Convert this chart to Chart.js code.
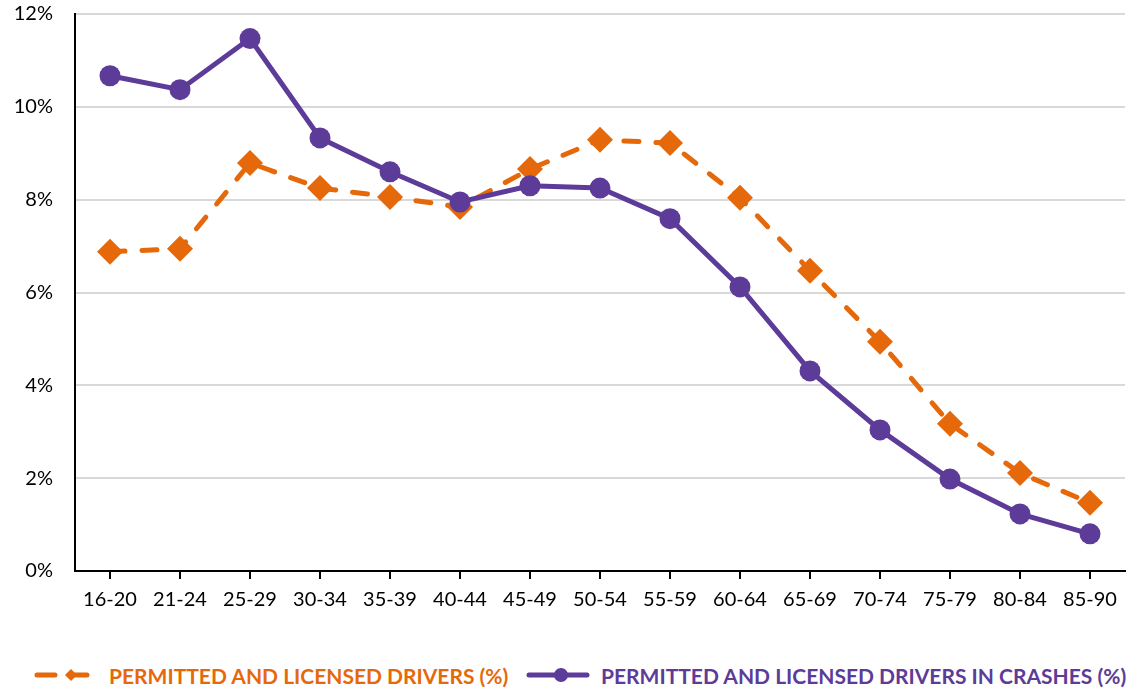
<!DOCTYPE html>
<html>
<head>
<meta charset="utf-8">
<script src="https://cdn.jsdelivr.net/npm/chart.js@4/dist/chart.umd.min.js"></script>
<style>
  html, body { margin: 0; padding: 0; background: #fff; }
  #wrap { width: 1129px; height: 689px; position: relative; }
  #chartBox { position: absolute; left: 0; top: 0; width: 1129px; height: 650px; }
  .leg { position: absolute; top: 662px; height: 26px; display: flex; align-items: center;
         font-family: Lato, 'Open Sans', sans-serif; font-weight: bold; font-size: 21px; white-space: nowrap; }
  .leg canvas { margin-right: 10px; }
</style>
</head>
<body>
<div id="wrap">
  <div id="chartBox"><canvas id="chartDrivers"></canvas></div>
  <div class="leg" id="leg0" style="left:33px"></div>
  <div class="leg" id="leg1" style="left:525px"></div>
</div>
<script>
const ageGroups = ["16-20", "21-24", "25-29", "30-34", "35-39", "40-44", "45-49", "50-54", "55-59", "60-64", "65-69", "70-74", "75-79", "80-84", "85-90"];
const licensedPct = [6.88, 6.94, 8.79, 8.25, 8.06, 7.84, 8.66, 9.29, 9.22, 8.04, 6.47, 4.94, 3.17, 2.11, 1.47];
const crashPct = [10.67, 10.37, 11.47, 9.33, 8.6, 7.95, 8.3, 8.25, 7.59, 6.12, 4.31, 3.04, 1.98, 1.23, 0.8];
const yTicks = [0, 2, 4, 6, 8, 10, 12];
const seriesNames = ['PERMITTED AND LICENSED DRIVERS (%)', 'PERMITTED AND LICENSED DRIVERS IN CRASHES (%)'];

const orange = '#E5690A';
const purple = '#5D3B98';
const fontFam = "Lato, 'Open Sans', sans-serif";

// legend: small sample canvas + real text
function buildLegend(id, name, color, dashed, marker) {
    const box = document.getElementById(id);
    const c = document.createElement('canvas');
    c.width = 66; c.height = 18;
    const g = c.getContext('2d');
    g.strokeStyle = color; g.fillStyle = color;
    g.lineWidth = 5; g.lineCap = 'round';
    if (dashed) g.setLineDash([18, 14]);
    g.beginPath(); g.moveTo(4, 9); g.lineTo(62, 9); g.stroke();
    g.setLineDash([]);
    g.beginPath();
    if (marker === 'diamond') {
        g.moveTo(38, 3); g.lineTo(44, 9); g.lineTo(38, 15); g.lineTo(32, 9);
    } else {
        g.arc(36, 9, 7, 0, Math.PI * 2);
    }
    g.closePath(); g.fill();
    const t = document.createElement('span');
    t.textContent = name;
    t.style.color = color;
    box.appendChild(c);
    box.appendChild(t);
}
buildLegend('leg0', seriesNames[0], orange, true, 'diamond');
buildLegend('leg1', seriesNames[1], purple, false, 'circle');

const ctx = document.getElementById('chartDrivers').getContext('2d');
new Chart(ctx, {
    type: 'line',
    data: {
        labels: ageGroups,
        datasets: [
            {
                label: seriesNames[0],
                data: licensedPct,
                borderColor: orange,
                backgroundColor: orange,
                borderWidth: 5,
                borderDash: [15, 17],
                borderCapStyle: 'round',
                pointStyle: 'rectRot',
                pointRadius: 13,
                pointHoverRadius: 13,
                pointBorderWidth: 0,
                tension: 0,
                order: 1
            },
            {
                label: seriesNames[1],
                data: crashPct,
                borderColor: purple,
                backgroundColor: purple,
                borderWidth: 5,
                pointStyle: 'circle',
                pointRadius: 10.5,
                pointHoverRadius: 10.5,
                pointBorderWidth: 0,
                tension: 0,
                order: 0
            }
        ]
    },
    options: {
        responsive: true,
        maintainAspectRatio: false,
        animation: false,
        layout: { autoPadding: false, padding: { left: 0, right: 4, top: 0, bottom: 0 } },
        scales: {
            x: {
                offset: true,
                afterFit: axis => { axis.height = 79; },
                grid: { display: true, drawOnChartArea: false, drawTicks: true, tickLength: 8, color: '#000', lineWidth: 2 },
                border: { display: true, color: '#000', width: 2 },
                ticks: { color: '#000', font: { family: fontFam, size: 20 }, padding: 9, maxRotation: 0 }
            },
            y: {
                min: 0,
                max: 12,
                afterFit: axis => { axis.width = 75; axis.paddingTop = 14; axis.paddingBottom = 14; },
                afterBuildTicks: axis => { axis.ticks = yTicks.map(v => ({ value: v })); },
                grid: { color: '#D9D9D9', lineWidth: 2, drawTicks: false },
                border: { display: true, color: '#000', width: 2 },
                ticks: { color: '#000', font: { family: fontFam, size: 20 }, padding: 22, callback: v => v + '%' }
            }
        },
        plugins: {
            tooltip: { enabled: false },
            legend: { display: false }
        }
    }
});
</script>
</body>
</html>
